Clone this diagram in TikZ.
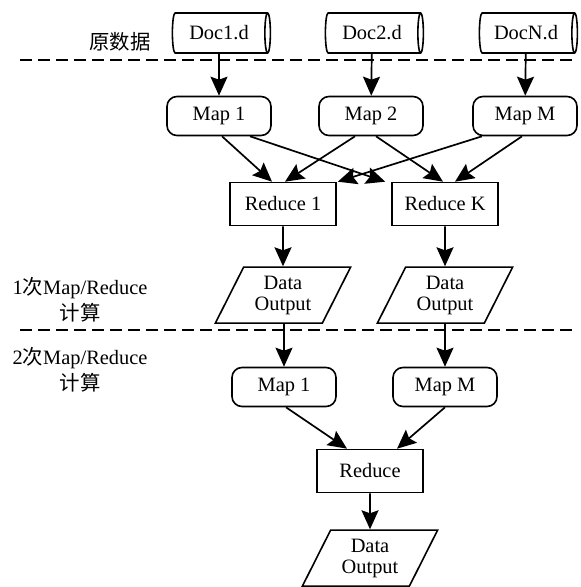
\documentclass[tikz,border=0pt]{standalone}
\usepackage{fontspec}
\setmainfont{Liberation Serif}
\newfontfamily\cjk{Noto Sans CJK SC}
\usepackage{tikz}
\usetikzlibrary{arrows.meta, positioning, calc, shapes.geometric}

\begin{document}
\begin{tikzpicture}[
    x=0.5pt, y=-0.5pt,
    font=\fontsize{10.2pt}{12pt}\selectfont,
    %% input files
    dbox/.style = {
      cylinder, draw, line width=0.8pt, shape aspect=0.3,
      minimum height=49pt, minimum width=20pt, inner sep=1pt},
    %% map and reduce boxes
    mapbox/.style = {
      draw, line width=0.8pt, rounded corners=5pt,
      minimum width=52pt, minimum height=19.5pt, inner sep=2pt},
    rbox/.style = {
      draw, line width=0.8pt,
      minimum width=53pt, minimum height=21.5pt, inner sep=2pt},
    %% output parallelograms
    obox/.style = {
      trapezium, draw, line width=0.8pt,
      trapezium left angle=63, trapezium right angle=117,
      trapezium stretches=true,
      minimum width=68pt, minimum height=28pt, inner sep=1pt,
      align=center, font=\fontsize{10.2pt}{10.5pt}\selectfont},
    %% stage labels on the left
    lbl/.style = {align=center, font=\fontsize{10.2pt}{13pt}\selectfont},
    %% arrows and separators
    arr/.style = {-{Stealth[length=9.5pt, width=8.5pt, inset=1.5pt]}, line width=0.85pt},
    sep/.style = {dash pattern=on 6pt off 3pt, line width=0.9pt},
  ]
    \useasboundingbox (0,0) rectangle (581,587);

    %% ── source files ──────────────────────────────────────────────
    \node[dbox] (D1) at (219,33) {Doc1.d};
    \node[dbox] (D2) at (372,33) {Doc2.d};
    \node[dbox] (DN) at (526,33) {DocN.d};

    %% ── first Map/Reduce ──────────────────────────────────────────
    \node[mapbox] (M1) at (219,116) {Map 1};
    \node[mapbox] (M2) at (371,116) {Map 2};
    \node[mapbox] (MM) at (525,116) {Map M};

    \node[rbox] (R1) at (283,204) {Reduce 1};
    \node[rbox] (RK) at (445,204) {Reduce K};

    \node[obox, below=20pt of R1] (O1) {Data\\Output};
    \node[obox, below=20pt of RK] (OK) {Data\\Output};

    \draw[arr] (D1)--(M1); \draw[arr] (D2)--(M2); \draw[arr] (DN)--(MM);

    \draw[arr] ($(M1.south)+(3,0)$)   -- ($(R1.north)+(-11,0)$);
    \draw[arr] ($(M1.south)+(31,0)$)  -- ($(RK.north west)+(-6,0)$);
    \draw[arr] ($(M2.south)+(-16,0)$) -- ($(R1.north)+(2,0)$);
    \draw[arr] ($(M2.south)+(5,0)$)   -- ($(RK.north)+(-2,0)$);
    \draw[arr] ($(MM.south)+(-43,0)$) -- ($(R1.north east)+(1,0)$);
    \draw[arr] ($(MM.south)+(-3,0)$)  -- ($(RK.north)+(10,0)$);

    \draw[arr] (R1)--(O1); \draw[arr] (RK)--(OK);

    %% ── second Map/Reduce ─────────────────────────────────────────
    \node[mapbox] (P1) at (284,387) {Map 1};
    \node[mapbox] (PM) at (445,387) {Map M};
    \node[rbox]   (RR) at (370,471) {Reduce};
    \node[obox, below=18pt of RR] (OO) {Data\\Output};

    \draw[arr] (O1.south-|P1)--(P1); \draw[arr] (OK.south-|PM)--(PM);
    \draw[arr] ($(P1.south)+(2,0)$) -- ($(RR.north)+(-23,0)$);
    \draw[arr] (PM.south) -- ($(RR.north)+(27,0)$);
    \draw[arr] (RR)--(OO);

    %% ── separators and stage labels ───────────────────────────────
    \draw[sep] (20,60) -- (576,60);
    \draw[sep] (20,330) -- (576,330);

    \node[lbl] (L0) at (120,42) {\cjk 原数据};
    \node[lbl] (L1) at (80,300) {1{\cjk 次}Map/Reduce\\{\cjk 计算}};
    \node[lbl] (L2) at (80,370) {2{\cjk 次}Map/Reduce\\{\cjk 计算}};
\end{tikzpicture}
\end{document}
